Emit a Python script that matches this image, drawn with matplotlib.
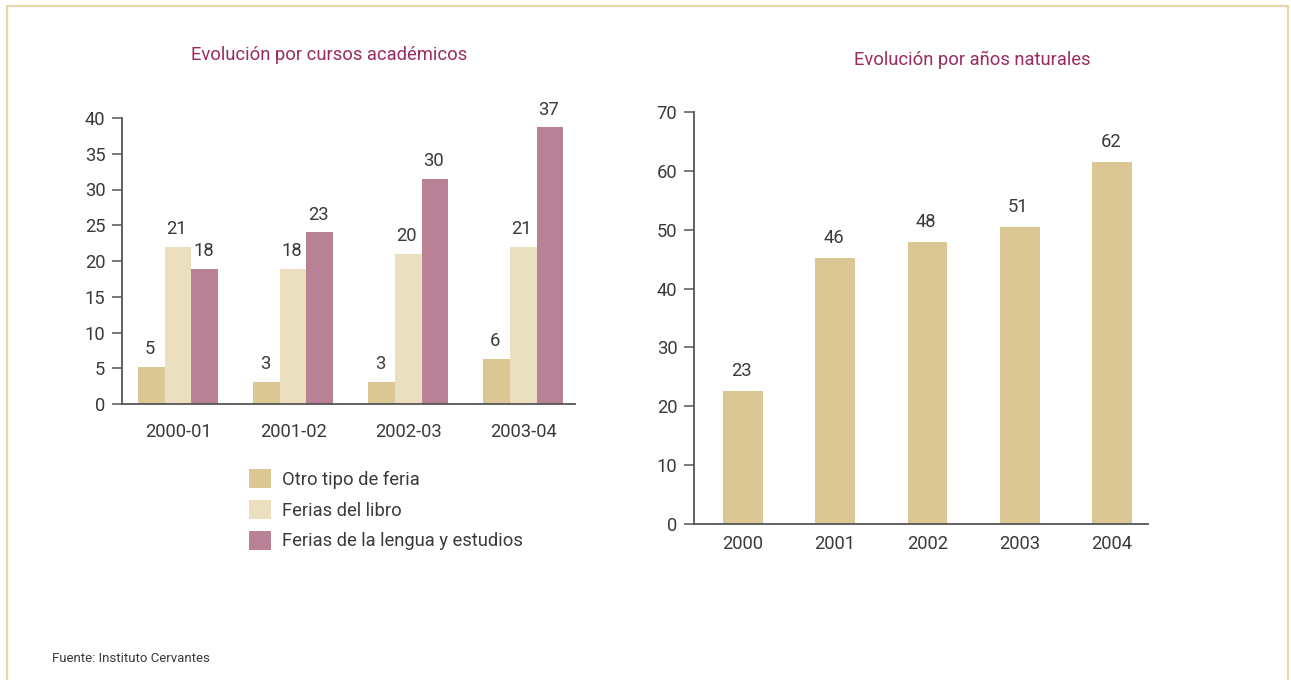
import matplotlib
matplotlib.use("Agg")
import matplotlib.pyplot as plt
from matplotlib import font_manager
from matplotlib.patches import Rectangle
import numpy as np

# fuente estrecha si existe
names = {f.name for f in font_manager.fontManager.ttflist}
FONT = "Liberation Sans Narrow" if "Liberation Sans Narrow" in names else "Roboto"
plt.rcParams['font.family'] = [FONT, 'DejaVu Sans']

# ---------------- datos ----------------
cursos = ["2000-01", "2001-02", "2002-03", "2003-04"]
otro = [5.2, 3.1, 3.1, 6.3]
libro = [22.0, 18.9, 21.0, 22.0]
lengua = [18.9, 24.0, 31.5, 38.7]
otro_lbl = [5, 3, 3, 6]
libro_lbl = [21, 18, 20, 21]
lengua_lbl = [18, 23, 30, 37]

anios = ["2000", "2001", "2002", "2003", "2004"]
total = [22.6, 45.2, 47.9, 50.5, 61.5]
total_lbl = [23, 46, 48, 51, 62]

C_OTRO = "#dbc793"
C_LIBRO = "#eadfbf"
C_LENGUA = "#b88195"
C_TITLE = "#9a2a60"
C_TEXT = "#3a3a3a"
C_AXIS = "#555555"
C_FRAME = "#e6d6a8"

W, H = 1291, 680
fig = plt.figure(figsize=(W / 100, H / 100), dpi=100)

def px_axes(x0, x1, y_top, y_zero):
    return fig.add_axes([x0 / W, (H - y_zero) / H, (x1 - x0) / W, (y_zero - y_top) / H])

def style(ax, xpad):
    for s in ["top", "right"]:
        ax.spines[s].set_visible(False)
    for s in ["left", "bottom"]:
        ax.spines[s].set_color(C_AXIS)
        ax.spines[s].set_linewidth(1.3)
    ax.tick_params(axis="y", length=7, width=1.1, color=C_AXIS, labelsize=13.2,
                   labelcolor=C_TEXT, pad=5)
    ax.tick_params(axis="x", length=0, labelsize=13.2, labelcolor=C_TEXT, pad=xpad)

# ---------------- izquierda ----------------
ax1 = px_axes(122, 575, 118, 404)
style(ax1, 13.5)
x = np.arange(len(cursos))
bw = 0.232
series = [(otro, otro_lbl, C_OTRO, "Otro tipo de feria"),
          (libro, libro_lbl, C_LIBRO, "Ferias del libro"),
          (lengua, lengua_lbl, C_LENGUA, "Ferias de la lengua y estudios")]
handles = []
for i, (vals, lbls, col, name) in enumerate(series):
    xs = x + (i - 1) * bw
    b = ax1.bar(xs, vals, bw, color=col, label=name, linewidth=0)
    handles.append(b)
    for xi, v, l in zip(xs, vals, lbls):
        ax1.annotate(str(l), (xi, v), xytext=(-1, 9), textcoords="offset points",
                     ha="center", va="baseline", fontsize=13.2, color=C_TEXT)
ax1.set_xlim(-0.487, 3.45)
ax1.set_ylim(0, 40)
ax1.set_yticks(range(0, 41, 5))
ax1.set_xticks(x)
ax1.set_xticklabels(cursos)

fig.text(329 / W, 1 - 55 / H, "Evolución por cursos académicos", ha="center",
         va="center", fontsize=13.2, color=C_TITLE)

fig.legend(handles=handles, loc="upper left", bbox_to_anchor=(249 / W, 1 - 469 / H),
           frameon=False, fontsize=13.2, handlelength=1.2, handleheight=1.2,
           labelspacing=0.62, handletextpad=0.6, borderpad=0, borderaxespad=0,
           labelcolor=C_TEXT)

# ---------------- derecha ----------------
ax2 = px_axes(694, 1148, 112, 524)
style(ax2, 8)
x2 = np.arange(len(anios))
ax2.bar(x2, total, 0.43, color=C_OTRO, linewidth=0)
for xi, v, l in zip(x2, total, total_lbl):
    ax2.annotate(str(l), (xi, v), xytext=(-1, 10.5), textcoords="offset points",
                 ha="center", va="baseline", fontsize=13.2, color=C_TEXT)
ax2.set_xlim(-0.53, 4.39)
ax2.set_ylim(0, 70)
ax2.set_yticks(range(0, 71, 10))
ax2.set_xticks(x2)
ax2.set_xticklabels(anios)

fig.text(972 / W, 1 - 60 / H, "Evolución por años naturales", ha="center",
         va="center", fontsize=13.2, color=C_TITLE)

# ---------------- pie y marco ----------------
fig.text(52 / W, 1 - 658 / H, "Fuente: Instituto Cervantes", ha="left", va="center",
         fontsize=9.5, color=C_TEXT)

fig.add_artist(Rectangle((7 / W, -0.05), (1288 - 7) / W, 1.05 - 6 / H,
                         transform=fig.transFigure, fill=False, edgecolor=C_FRAME,
                         linewidth=1.6, clip_on=False))

fig.savefig("out.png", dpi=100)
